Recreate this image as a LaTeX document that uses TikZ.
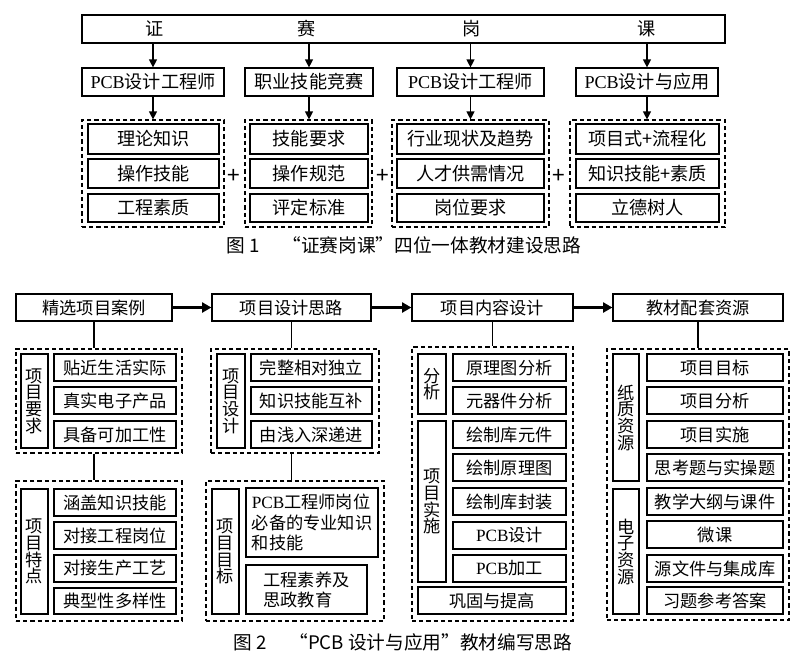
\documentclass[tikz,border=0pt]{standalone}
\usepackage{fontspec}
\setmainfont{Noto Sans CJK SC}
\newfontfamily\latinfont{Liberation Serif}
\usetikzlibrary{arrows.meta}
\newcommand{\PCB}{{\latinfont PCB}}

\begin{document}
\begin{tikzpicture}[
    x=0.75pt, y=-0.75pt,
    spot/.style n args={4}{at={({(#1+#3)/2},{(#2+#4)/2})}, minimum width={(#3-#1)*0.75pt}, minimum height={(#4-#2)*0.75pt}},
    box/.style={draw, line width=0.9pt, inner sep=0pt, font=\fontsize{12.9}{12.9}\selectfont},
    bigbox/.style={box, font=\fontsize{13.6}{13.6}\selectfont},
    lab/.style={box, align=center, font=\fontsize{12.9}{12.5}\selectfont},
    grp/.style={draw, line width=0.9pt, dash pattern=on 3.2pt off 2.2pt, inner sep=0pt},
    arr/.style={line width=0.9pt, -{Triangle[length=6pt,width=6pt]}},
    bigarr/.style={line width=2.2pt, -{Triangle[length=7pt,width=7.5pt]}},
    conn/.style={line width=0.9pt},
    head/.style={font=\fontsize{13.6}{13.6}\selectfont},
    captext/.style={font=\fontsize{14}{14}\selectfont}
]
\useasboundingbox (0,0) rectangle (800,669);

% Figure 1: top bar
\node[bigbox, spot={82}{15}{725}{43}] (bar) {};
\node[head] (zheng) at (155,29) {证};
\node[head] (sai) at (307,29) {赛};
\node[head] (gang) at (472,29) {岗};
\node[head] (ke) at (647,29) {课};

% Second row
\node[bigbox, spot={82}{68}{224}{96}] (cert) {\PCB 设计工程师};
\node[bigbox, spot={245}{68}{373}{96}] (comp) {职业技能竞赛};
\node[bigbox, spot={397}{68}{544}{96}] (post) {\PCB 设计工程师};
\node[bigbox, spot={576}{68}{718}{96}] (course) {\PCB 设计与应用};

% Dashed groups
\node[grp, spot={82}{120}{224}{227}] (ga) {};
\node[grp, spot={245}{120}{372}{227}] (gb) {};
\node[grp, spot={392}{120}{549}{227}] (gc) {};
\node[grp, spot={570}{120}{725}{227}] (gd) {};

% Items
\node[bigbox, spot={88}{124}{219}{154}] (ga1) {理论知识};
\node[bigbox, spot={88}{159}{219}{188}] (ga2) {操作技能};
\node[bigbox, spot={88}{194}{219}{222}] (ga3) {工程素质};
\node[bigbox, spot={250}{124}{368}{154}] (gb1) {技能要求};
\node[bigbox, spot={250}{159}{368}{188}] (gb2) {操作规范};
\node[bigbox, spot={250}{194}{368}{222}] (gb3) {评定标准};
\node[bigbox, spot={397}{124}{544}{154}] (gc1) {行业现状及趋势};
\node[bigbox, spot={397}{159}{544}{188}] (gc2) {人才供需情况};
\node[bigbox, spot={397}{194}{544}{222}] (gc3) {岗位要求};
\node[bigbox, spot={576}{124}{719}{154}] (gd1) {项目式+流程化};
\node[bigbox, spot={576}{159}{719}{188}] (gd2) {知识技能+素质};
\node[bigbox, spot={576}{194}{719}{222}] (gd3) {立德树人};

% Plus signs
\node[font=\fontsize{17}{17}\selectfont] (plusa) at (234,176) {+};
\node[font=\fontsize{17}{17}\selectfont] (plusb) at (383,176) {+};
\node[font=\fontsize{17}{17}\selectfont] (plusc) at (559,176) {+};

% Arrows
\draw[arr] (bar.south -| cert) -- (cert.north);
\draw[arr] (bar.south -| comp) -- (comp.north);
\draw[arr] (bar.south -| post) -- (post.north);
\draw[arr] (bar.south -| course) -- (course.north);
\draw[arr] (cert.south) -- (cert.south |- ga.north);
\draw[arr] (comp.south) -- (comp.south |- gb.north);
\draw[arr] (post.south) -- (post.south |- gc.north);
\draw[arr] (course.south) -- (course.south |- gd.north);

\node[captext] (capa) at (404,245) {图 1\hspace{1.2em}“证赛岗课”四位一体教材建设思路};

% Figure 2: top row
\node[box, spot={16}{294}{172}{321}] (cases) {精选项目案例};
\node[box, spot={212}{294}{371}{321}] (design) {项目设计思路};
\node[box, spot={412}{294}{573}{321}] (content) {项目内容设计};
\node[box, spot={613}{294}{783}{321}] (res) {教材配套资源};
\draw[bigarr] (cases) -- (design);
\draw[bigarr] (design) -- (content);
\draw[bigarr] (content) -- (res);

% Column 1
\node[grp, spot={16}{349}{182}{453}] (reqgrp) {};
\node[lab, spot={21}{354}{48}{448}] (reqlab) {项\\目\\要\\求};
\node[box, spot={54}{354}{176}{381}] (req1) {贴近生活实际};
\node[box, spot={54}{387}{176}{414}] (req2) {真实电子产品};
\node[box, spot={54}{421}{176}{448}] (req3) {具备可加工性};
\node[grp, spot={16}{481}{182}{621}] (featgrp) {};
\node[lab, spot={21}{489}{48}{614}] (featlab) {项\\目\\特\\点};
\node[box, spot={54}{489}{176}{516}] (feat1) {涵盖知识技能};
\node[box, spot={54}{522}{176}{549}] (feat2) {对接工程岗位};
\node[box, spot={54}{555}{176}{582}] (feat3) {对接生产工艺};
\node[box, spot={54}{588}{176}{614}] (feat4) {典型性多样性};
\draw[conn] (cases.south) -- (cases.south |- reqgrp.north);
\draw[conn] (reqgrp.south -| cases) -- (featgrp.north -| cases);

% Column 2
\node[grp, spot={211}{349}{379}{453}] (desgrp) {};
\node[lab, spot={217}{354}{245}{448}] (deslab) {项\\目\\设\\计};
\node[box, spot={251}{354}{372}{381}] (des1) {完整相对独立};
\node[box, spot={251}{387}{372}{414}] (des2) {知识技能互补};
\node[box, spot={251}{421}{372}{448}] (des3) {由浅入深递进};
\node[grp, spot={206}{481}{384}{621}] (aimgrp) {};
\node[lab, spot={212}{489}{239}{614}] (aimlab) {项\\目\\目\\标};
\node[lab, spot={246}{488}{378}{557}, align=left, font=\fontsize{12.9}{15.6}\selectfont] (aim1) {\PCB 工程师岗位\\必备的专业知识\\和技能};
\node[lab, spot={246}{565}{367}{614}, align=left, font=\fontsize{12.9}{15}\selectfont] (aim2) {工程素养及\\思政教育};
\draw[conn] (design.south) -- (design.south |- desgrp.north);
\draw[conn] (desgrp.south -| design) -- (aimgrp.north -| design);

% Column 3
\node[grp, spot={412}{347}{573}{621}] (congrp) {};
\node[lab, spot={418}{354}{446}{414}] (anlab) {分\\析};
\node[lab, spot={418}{421}{446}{582}] (implab) {项\\目\\实\\施};
\node[box, spot={453}{354}{566}{381}] (con1) {原理图分析};
\node[box, spot={453}{387}{566}{414}] (con2) {元器件分析};
\node[box, spot={453}{421}{566}{448}] (con3) {绘制库元件};
\node[box, spot={453}{454}{566}{481}] (con4) {绘制原理图};
\node[box, spot={453}{488}{566}{515}] (con5) {绘制库封装};
\node[box, spot={453}{522}{566}{549}] (con6) {\PCB 设计};
\node[box, spot={453}{555}{566}{582}] (con7) {\PCB 加工};
\node[box, spot={418}{587}{566}{614}] (consol) {巩固与提高};
\draw[conn] (content.south) -- (content.south |- congrp.north);

% Column 4
\node[grp, spot={607}{349}{789}{620}] (resgrp) {};
\node[lab, spot={613}{354}{639}{481}] (paplab) {纸\\质\\资\\源};
\node[lab, spot={613}{489}{639}{614}] (elelab) {电\\子\\资\\源};
\node[box, spot={647}{354}{783}{381}] (res1) {项目目标};
\node[box, spot={647}{387}{783}{414}] (res2) {项目分析};
\node[box, spot={647}{421}{783}{448}] (res3) {项目实施};
\node[box, spot={647}{454}{783}{481}] (res4) {思考题与实操题};
\node[box, spot={647}{488}{783}{515}] (res5) {教学大纲与课件};
\node[box, spot={647}{521}{783}{548}] (res6) {微课};
\node[box, spot={647}{555}{783}{582}] (res7) {源文件与集成库};
\node[box, spot={647}{587}{783}{614}] (res8) {习题参考答案};
\draw[conn] (res.south) -- (res.south |- resgrp.north);

\node[captext] (capb) at (403,642) {图 2\hspace{1.2em}“PCB 设计与应用”教材编写思路};

\end{tikzpicture}
\end{document}
